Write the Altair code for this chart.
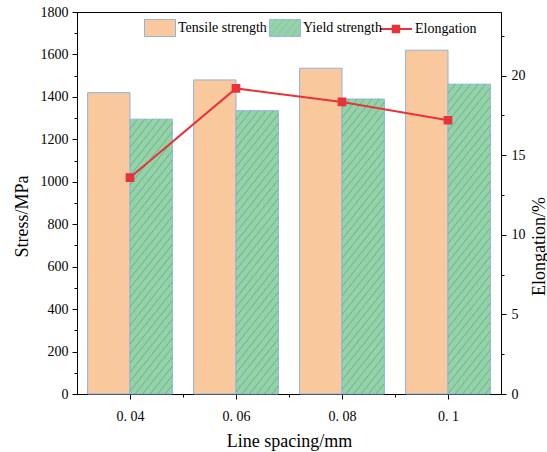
import altair as alt
import pandas as pd
import numpy as np

# ---------------- data ----------------
x_labels = ["0.04", "0.06", "0.08", "0.1"]
tensile = [1420, 1480, 1535, 1620]
yield_strength = [1295, 1335, 1390, 1460]
elongation = [13.6, 19.2, 18.35, 17.2]
series_names = ["Tensile strength", "Yield strength", "Elongation"]

# ---------------- layout / style ----------------
W, H = 424, 382
X_DOM = [0.03, 0.11]
Y_DOM = [0, 1800]
Y2_DOM = [0, 24]
BAR_W = 0.008
FONT = "Liberation Serif"
C_TENSILE = "#F9C89C"
C_YIELD = "#93D4A1"
C_EDGE = "#8DB4E2"
C_HATCH = "#5F92C8"
C_LINE = "#E8333A"

xs = [float(v) for v in x_labels]
df = pd.DataFrame({
    "spacing": xs,
    "tensile": tensile,
    "yield": yield_strength,
    "elong": elongation,
    "tname": [series_names[0]] * len(xs),
    "yname": [series_names[1]] * len(xs),
    "ename": [series_names[2]] * len(xs),
})

# hatch segments for the yield bars (derived from the data through the scale factors)
px_x = W / (X_DOM[1] - X_DOM[0])
px_y = H / (Y_DOM[1] - Y_DOM[0])
slope, step = 1.25, 7.5
bw = BAR_W * px_x
rows = []
for sx, yv in zip(xs, yield_strength):
    h = yv * px_y
    c = -h / slope
    while c < bw:
        xa = max(0.0, c)
        xb = min(bw, c + h / slope)
        if xb > xa:
            rows.append({
                "hx0": sx + xa / px_x, "hx1": sx + xb / px_x,
                "hy0": slope * (xa - c) / px_y, "hy1": slope * (xb - c) / px_y,
            })
        c += step
hatch_df = pd.DataFrame(rows)

# legend swatch paths
def fmt(v):
    return f"{v:.3f}"

RECT = "M-1,-0.55H1V0.55H-1Z"
hp = [RECT]
c = -1 - 1.1 / slope
while c < 1:
    xa = max(-1.0, c)
    xb = min(1.0, c + 1.1 / slope)
    if xb > xa:
        ya = 0.55 - slope * (xa - c)
        yb = 0.55 - slope * (xb - c)
        hp.append(f"M{fmt(xa)},{fmt(ya)}L{fmt(xb)},{fmt(yb)}")
    c += 0.45
HATCH_RECT = "".join(hp)
LINE_SYM = "M-1,0H1M-0.2,-0.2H0.2V0.2H-0.2Z"

xscale = alt.Scale(domain=X_DOM, nice=False, zero=False)
yscale = alt.Scale(domain=Y_DOM, nice=False)
y2scale = alt.Scale(domain=Y2_DOM, nice=False)

x_axis = alt.Axis(
    values=[0.04, 0.05, 0.06, 0.07, 0.08, 0.09, 0.10],
    labelExpr="round(datum.value*100) % 2 === 0 ? replace(format(datum.value, '.2~f'), '.', '. ') : ''",
    tickSize={"condition": {"test": "round(datum.value*100) % 2 === 0", "value": 5}, "value": 3},
    title="Line spacing/mm", titleFontSize=18, labelFontSize=14,
    labelPadding=10, titlePadding=9, grid=False,
)

y_axis = alt.Axis(
    values=list(range(0, 1801, 100)),
    labelExpr="datum.value % 200 === 0 ? datum.label : ''",
    format="d",
    tickSize={"condition": {"test": "datum.value % 200 === 0", "value": 5}, "value": 3},
    title="Stress/MPa", titleFontSize=18, labelFontSize=14,
    labelPadding=4, titlePadding=9, titleY=204, grid=False,
)

y2_axis = alt.Axis(
    orient="right",
    values=[i * 2.5 for i in range(10)],
    labelExpr="datum.value % 5 === 0 ? datum.label : ''",
    format="~g",
    tickSize={"condition": {"test": "datum.value % 5 === 0", "value": 5}, "value": 3},
    title="Elongation/%", titleFontSize=18, labelFontSize=14, titleAngle=270,
    titleX=38, titleY=234, titleAlign="center", titleBaseline="middle",
    labelPadding=5, grid=False,
)

leg_common = dict(orient="none", title=None, labelFontSize=14, labelFont=FONT,
                  labelColor="black", padding=0, labelOffset=2)

base = alt.Chart(df)

tensile_bars = base.mark_bar(stroke=C_EDGE, strokeWidth=1).transform_calculate(
    x0=f"datum.spacing - {BAR_W}"
).encode(
    x=alt.X("x0:Q", scale=xscale, axis=x_axis),
    x2="spacing:Q",
    y=alt.Y("tensile:Q", scale=yscale, axis=y_axis),
    y2=alt.datum(0),
    fill=alt.Fill("tname:N", scale=alt.Scale(range=[C_TENSILE]),
                  legend=alt.Legend(legendX=67, legendY=0, symbolType=RECT, symbolSize=961,
                                    symbolStrokeColor=C_EDGE, symbolStrokeWidth=1,
                                    symbolOpacity=1, **leg_common)),
)

yield_bars = base.mark_bar(stroke=C_EDGE, strokeWidth=1).transform_calculate(
    x1=f"datum.spacing + {BAR_W}"
).encode(
    x=alt.X("spacing:Q", scale=xscale, axis=x_axis),
    x2="x1:Q",
    y=alt.Y("yield:Q", scale=yscale, axis=y_axis),
    y2=alt.datum(0),
    fill=alt.Fill("yname:N", scale=alt.Scale(range=[C_YIELD]),
                  legend=alt.Legend(legendX=192, legendY=0, symbolType=HATCH_RECT, symbolSize=961,
                                    symbolStrokeColor=C_EDGE, symbolStrokeWidth=0.9,
                                    symbolOpacity=1, **leg_common)),
)

hatch = alt.Chart(hatch_df).mark_rule(color=C_HATCH, strokeWidth=0.7).encode(
    x=alt.X("hx0:Q", scale=xscale, axis=x_axis),
    x2="hx1:Q",
    y=alt.Y("hy0:Q", scale=yscale, axis=y_axis),
    y2="hy1:Q",
)

bars = alt.layer(tensile_bars, yield_bars, hatch).resolve_scale(fill="independent")

line = base.mark_line(strokeWidth=2, point=alt.OverlayMarkDef(shape="square", size=45, filled=True,
                                                             fill=C_LINE, color=C_LINE)).encode(
    x=alt.X("spacing:Q", scale=xscale, axis=x_axis),
    y=alt.Y("elong:Q", scale=y2scale, axis=y2_axis),
    stroke=alt.Stroke("ename:N", scale=alt.Scale(range=[C_LINE]),
                      legend=alt.Legend(legendX=302, legendY=0, symbolType=LINE_SYM, symbolSize=1024,
                                        symbolStrokeColor=C_LINE, symbolFillColor=C_LINE,
                                        symbolStrokeWidth=2, **leg_common)),
)

chart = alt.layer(bars, line).resolve_scale(y="independent").properties(
    width=W, height=H,
    padding={"left": 77, "top": 12, "right": 46, "bottom": 58},
    autosize=alt.AutoSizeParams(type="none"),
    background="white",
).configure(font=FONT).configure_view(stroke="black", strokeWidth=1).configure_axis(
    domainColor="black", tickColor="black", labelColor="black", titleColor="black",
    titleFontWeight="normal", labelFont=FONT, titleFont=FONT, domainWidth=1, tickWidth=1,
)

chart.save("out.html", embed_options={"renderer": "svg", "actions": False})
